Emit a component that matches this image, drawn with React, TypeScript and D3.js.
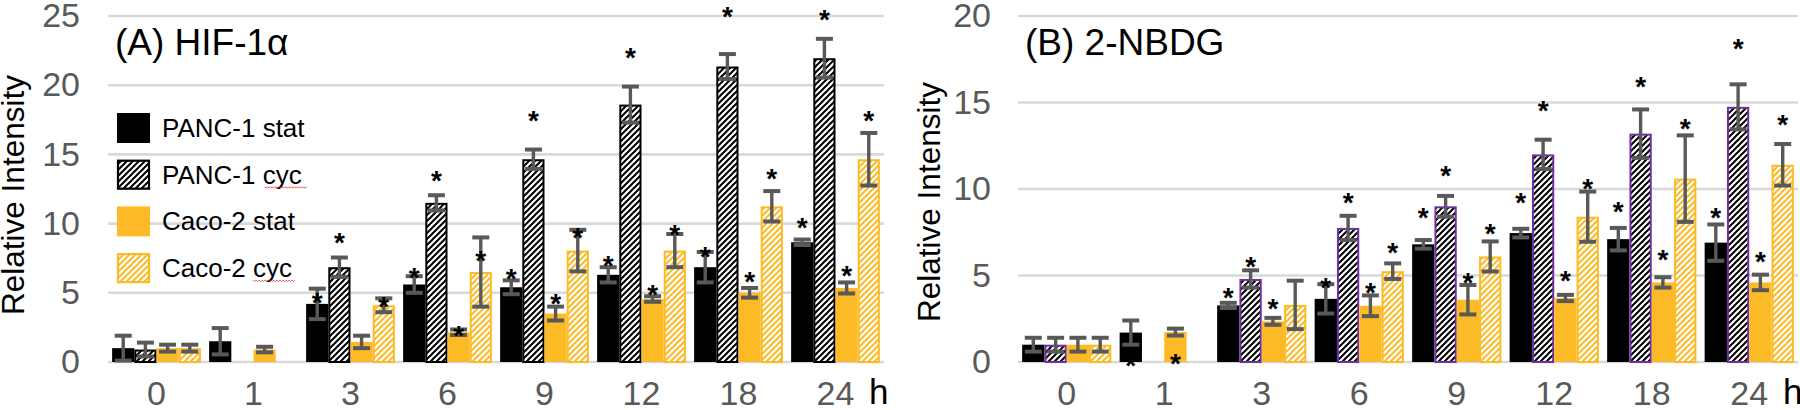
import * as d3 from 'd3';

const FONT = '"Liberation Sans", Arial, Helvetica, sans-serif';
const YELLOW = '#FCBB26';
const GRID = '#D9D9D9';
const TEXT_GREY = '#595959';
const PURPLE = '#7030A0';

// x categories (hours)
const categories = ['0', '1', '3', '6', '9', '12', '18', '24'];
const seriesNames = ['PANC-1 stat', 'PANC-1 cyc', 'Caco-2 stat', 'Caco-2 cyc'];
const yTicksA = [0, 5, 10, 15, 20, 25];
const yTicksB = [0, 5, 10, 15, 20];

// (A) HIF-1α means
const panc1StatA = [1.0, 1.5, 4.2, 5.6, 5.4, 6.3, 6.85, 8.65];
const panc1CycA = [0.9, 0, 6.85, 11.5, 14.65, 18.6, 21.35, 21.95];
const caco2StatA = [1.0, 0.9, 1.45, 2.15, 3.5, 4.55, 5.0, 5.35];
const caco2CycA = [1.0, 0, 4.1, 6.5, 8.05, 8.05, 11.25, 14.65];
// (A) error bars
const panc1StatErrA = [0.9, 0.95, 1.1, 0.6, 0.5, 0.55, 1.1, 0.2];
const panc1CycErrA = [0.5, 0, 0.7, 0.55, 0.7, 1.3, 0.9, 1.4];
const caco2StatErrA = [0.25, 0.2, 0.45, 0.2, 0.5, 0.2, 0.35, 0.4];
const caco2CycErrA = [0.25, 0, 0.5, 2.5, 1.5, 1.2, 1.1, 1.9];
// (A) significance star heights
const panc1StatStarA = [null, null, 4.8, 6.6, 6.5, 7.45, 8.1, 10.2];
const panc1CycStarA = [null, null, 9.1, 13.6, 17.9, 22.5, 25.4, 25.2];
const caco2StatStarA = [null, null, null, 2.4, 4.7, 5.35, 6.3, 6.7];
const caco2CycStarA = [null, null, 4.45, 7.8, 9.5, 9.65, 13.7, 17.9];

// (B) 2-NBDG means
const panc1StatB = [1.0, 1.7, 3.27, 3.65, 6.8, 7.45, 7.1, 6.9];
const panc1CycB = [1.0, 0, 4.8, 7.75, 9.0, 12.0, 13.2, 14.75];
const caco2StatB = [1.0, 1.73, 2.35, 3.25, 3.6, 3.7, 4.6, 4.6];
const caco2CycB = [1.0, 0, 3.3, 5.25, 6.1, 8.4, 10.6, 11.4];
// (B) error bars
const panc1StatErrB = [0.4, 0.7, 0.15, 0.85, 0.25, 0.25, 0.65, 1.05];
const panc1CycErrB = [0.4, 0, 0.5, 0.7, 0.6, 0.85, 1.4, 1.3];
const caco2StatErrB = [0.4, 0.2, 0.2, 0.6, 0.85, 0.18, 0.3, 0.45];
const caco2CycErrB = [0.4, 0, 1.4, 0.45, 0.87, 1.45, 2.5, 1.2];
// (B) significance star heights
const panc1StatStarB = [null, 0.15, 4.1, 4.7, 8.7, 9.6, 9.1, 8.75];
const panc1CycStarB = [null, null, 5.9, 9.6, 11.15, 14.9, 16.3, 18.5];
const caco2StatStarB = [null, 0.3, 3.45, 4.4, 5.0, 5.1, 6.3, 6.2];
const caco2CycStarB = [null, null, null, 6.7, 7.8, 10.4, 13.9, 14.1];

type Series = { name: string; values: number[]; errs: number[]; stars: (number | null)[] };

function makeSeries(vals: number[][], errs: number[][], stars: (number | null)[][]): Series[] {
  return seriesNames.map((name, i) => ({ name, values: vals[i], errs: errs[i], stars: stars[i] }));
}

const seriesA = makeSeries(
  [panc1StatA, panc1CycA, caco2StatA, caco2CycA],
  [panc1StatErrA, panc1CycErrA, caco2StatErrA, caco2CycErrA],
  [panc1StatStarA, panc1CycStarA, caco2StatStarA, caco2CycStarA]
);
const seriesB = makeSeries(
  [panc1StatB, panc1CycB, caco2StatB, caco2CycB],
  [panc1StatErrB, panc1CycErrB, caco2StatErrB, caco2CycErrB],
  [panc1StatStarB, panc1CycStarB, caco2StatStarB, caco2CycStarB]
);

function barStyle(i: number, cycStroke: string) {
  if (i === 0) return { fill: '#000', stroke: 'none' };
  if (i === 1) return { fill: 'url(#hatchBlack)', stroke: cycStroke };
  if (i === 2) return { fill: YELLOW, stroke: 'none' };
  return { fill: 'url(#hatchYellow)', stroke: YELLOW };
}

function wave(x: number, y: number, len: number) {
  let d = `M${x},${y}`;
  for (let i = 0; i < len; i += 3) d += ' l1.5,1.5 l1.5,-1.5';
  return d;
}

interface PanelProps {
  series: Series[];
  yMax: number;
  yTicks: number[];
  left: number;
  right: number;
  title: string;
  tickX: number;
  labelX: number;
  labelY: number;
  cycStroke: string;
  legend?: boolean;
}

function Panel(props: PanelProps) {
  const { series, yMax, yTicks, left, right, title, tickX, labelX, labelY, cycStroke, legend } = props;
  const top = 16;
  const bottom = 362;

  const y = d3.scaleLinear().domain([0, yMax]).range([bottom, top]);
  const x = d3.scaleBand().domain(categories).range([left, right]).paddingInner(0.085).paddingOuter(0.0425);
  const xs = d3.scaleBand().domain(seriesNames).range([0, x.bandwidth()]);
  const bw = xs.bandwidth();

  return (
    <g>
      {yTicks.map((t) => (
        <g key={t}>
          <line x1={left} x2={right} y1={y(t)} y2={y(t)} stroke={GRID} strokeWidth={2.6} />
          <text x={tickX} y={y(t) - 1} dy="0.36em" textAnchor="end" fontSize={34} fill={TEXT_GREY} fontFamily={FONT}>
            {t}
          </text>
        </g>
      ))}
      <text
        transform={`translate(${labelX},${labelY}) rotate(-90)`}
        textAnchor="middle"
        dy="0.36em"
        fontSize={31.5}
        fontFamily={FONT}
        fill="#000"
      >
        Relative Intensity
      </text>
      <text x={left + 7} y={55} fontSize={37} fontFamily={FONT} fill="#000">
        {title}
      </text>

      {series.map((s, i) => {
        const st = barStyle(i, cycStroke);
        const hasStroke = st.stroke !== 'none';
        return (
          <g key={s.name}>
            {s.values.map((v, j) => {
              if (v <= 0) return null;
              const bx = x(categories[j])! + xs(s.name)!;
              return hasStroke ? (
                <rect
                  key={j}
                  x={bx + 1}
                  y={y(v) + 1}
                  width={bw - 2}
                  height={y(0) - y(v) - 1}
                  fill={st.fill}
                  stroke={st.stroke}
                  strokeWidth={2}
                />
              ) : (
                <rect key={j} x={bx} y={y(v)} width={bw} height={y(0) - y(v)} fill={st.fill} />
              );
            })}
          </g>
        );
      })}

      {series.map((s) => (
        <g key={s.name + 'err'} stroke="#595959" strokeWidth={3.4}>
          {s.values.map((v, j) => {
            const e = s.errs[j];
            if (v <= 0 || !e) return null;
            const cx = x(categories[j])! + xs(s.name)! + bw / 2;
            const y1 = y(v + e);
            const y2 = y(v - e);
            return (
              <g key={j}>
                <line x1={cx} x2={cx} y1={y1} y2={y2} />
                <line x1={cx - 8.5} x2={cx + 8.5} y1={y1} y2={y1} strokeWidth={4} />
                <line x1={cx - 8.5} x2={cx + 8.5} y1={y2} y2={y2} strokeWidth={4} />
              </g>
            );
          })}
        </g>
      ))}

      {series.map((s) => (
        <g key={s.name + 'star'}>
          {s.stars.map((sv, j) => {
            if (sv == null) return null;
            const cx = x(categories[j])! + xs(s.name)! + bw / 2;
            return (
              <text
                key={j}
                x={cx}
                y={y(sv) + 16}
                textAnchor="middle"
                fontSize={28}
                fontWeight="bold"
                fontFamily={FONT}
                fill="#000"
              >
                *
              </text>
            );
          })}
        </g>
      ))}

      {categories.map((c) => (
        <text
          key={c}
          x={x(c)! + x.bandwidth() / 2}
          y={393}
          dy="0.36em"
          textAnchor="middle"
          fontSize={34}
          fill={TEXT_GREY}
          fontFamily={FONT}
        >
          {c}
        </text>
      ))}
      <text x={right - 15} y={404} fontSize={35} fill="#000" fontFamily={FONT}>
        h
      </text>

      {legend &&
        series.map((s, i) => {
          const st = barStyle(i, '#000');
          const ry = 113 + i * 46.7;
          const hasStroke = st.stroke !== 'none';
          const spaceIdx = s.name.lastIndexOf(' ');
          const prefix = s.name.slice(0, spaceIdx + 1);
          // approximate prefix width in Liberation Sans at 26px
          const prefixW = prefix === 'PANC-1 ' ? 102.6 : 91;
          return (
            <g key={s.name + 'leg'}>
              {hasStroke ? (
                <rect x={118} y={ry + 1} width={31} height={28} fill={st.fill} stroke={st.stroke} strokeWidth={2.2} />
              ) : (
                <rect x={117} y={ry} width={33} height={30} fill={st.fill} />
              )}
              <text x={162} y={ry + 24} fontSize={26} fontFamily={FONT} fill="#000">
                {s.name}
              </text>
              {s.name.endsWith('cyc') && (
                <path d={wave(162 + prefixW, ry + 27, 40)} fill="none" stroke="#E8474B" strokeWidth={0.9} />
              )}
            </g>
          );
        })}
    </g>
  );
}

export default function App() {
  return (
    <svg
      width={1800}
      height={410}
      viewBox="0 0 1800 410"
      style={{ position: 'absolute', left: 0, top: 0, background: '#fff' }}
    >
      <defs>
        <pattern id="hatchBlack" patternUnits="userSpaceOnUse" width={6} height={6}>
          <rect width={6} height={6} fill="#fff" />
          <path d="M0,6 L6,0 M-1.5,1.5 L1.5,-1.5 M4.5,7.5 L7.5,4.5" stroke="#000" strokeWidth={2} />
        </pattern>
        <pattern id="hatchYellow" patternUnits="userSpaceOnUse" width={6} height={6}>
          <rect width={6} height={6} fill="#fff" />
          <path d="M0,6 L6,0 M-1.5,1.5 L1.5,-1.5 M4.5,7.5 L7.5,4.5" stroke={YELLOW} strokeWidth={2} />
        </pattern>
      </defs>
      <rect width={1800} height={410} fill="#fff" />
      <Panel
        series={seriesA}
        yMax={25}
        yTicks={yTicksA}
        left={108}
        right={884}
        title="(A) HIF-1α"
        tickX={80}
        labelX={13}
        labelY={195}
        cycStroke="#000"
        legend
      />
      <Panel
        series={seriesB}
        yMax={20}
        yTicks={yTicksB}
        left={1018}
        right={1798}
        title="(B) 2-NBDG"
        tickX={991}
        labelX={929}
        labelY={202}
        cycStroke={PURPLE}
      />
    </svg>
  );
}
